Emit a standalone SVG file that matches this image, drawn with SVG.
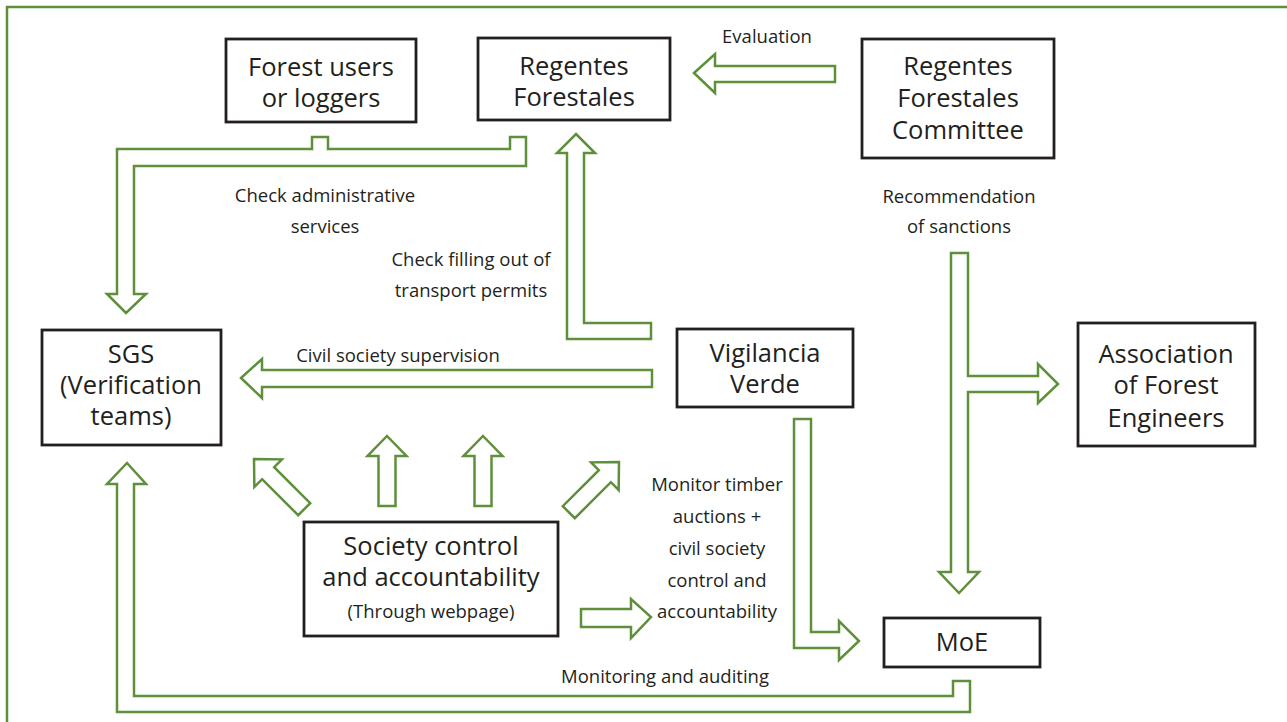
<svg xmlns="http://www.w3.org/2000/svg" width="1287" height="722" viewBox="0 0 1287 722">
  <style>
    .frame { fill: none; stroke: #5e8f3b; stroke-width: 2.5; }
    .box { fill: #ffffff; stroke: #231f20; stroke-width: 2.8; }
    .ba { fill: #ffffff; stroke: #5e8f3b; stroke-width: 2.5; stroke-linejoin: miter; }
    .nt { font-family: "Open Sans", "Liberation Sans", sans-serif; font-size: 25.5px; fill: #231f20; text-anchor: middle; }
    .nts { font-family: "Open Sans", "Liberation Sans", sans-serif; font-size: 18.5px; fill: #231f20; text-anchor: middle; }
    .lbl { font-family: "Open Sans", "Liberation Sans", sans-serif; font-size: 18.5px; fill: #231f20; text-anchor: middle; }
  </style>
  <rect x="0" y="0" width="1287" height="722" fill="#ffffff"/>
  <rect class="frame" x="7" y="7" width="1300" height="740"/>

  <g id="connectors">
    <polygon class="ba" points="694,73 715,54 715,66 835,66 835,82 715,82 715,93"/>
    <polygon class="ba" points="117,149 312,149 312,137 328,137 328,149 510,149 510,137 526,137 526,166 134,166 134,294 146,294 126,313 107,294 117,294"/>
    <polygon class="ba" points="576,134 595,153 584,153 584,323 651,323 651,339 567,339 567,153 557,153"/>
    <polygon class="ba" points="241,378 262,359 262,370 652,370 652,387 262,387 262,398"/>
    <polygon class="ba" points="951,253 968,253 968,376 1038,376 1038,364 1058,384 1038,403 1038,392 968,392 968,572 979,572 959,593 939,572 951,572"/>
    <polygon class="ba" points="794,419 811,419 811,632 839,632 839,621 859,641 839,660 839,648 794,648"/>
    <polygon class="ba" points="127,463 146,484 134,484 134,696 953,696 953,681 970,681 970,712 117,712 117,484 107,484"/>
    <polygon class="ba" points="581,609 631,609 631,599 651,617 631,638 631,627 581,627"/>
    <polygon class="ba" transform="translate(254,459) rotate(-45)" points="0,0 19.5,20 8.5,20 8.5,71 -8.5,71 -8.5,20 -19.5,20"/>
    <polygon class="ba" transform="translate(387,436)" points="0,0 19.5,20 8.5,20 8.5,70 -8.5,70 -8.5,20 -19.5,20"/>
    <polygon class="ba" transform="translate(483,436)" points="0,0 19.5,20 8.5,20 8.5,70 -8.5,70 -8.5,20 -19.5,20"/>
    <polygon class="ba" transform="translate(619,462) rotate(45)" points="0,0 19.5,20 8.5,20 8.5,71 -8.5,71 -8.5,20 -19.5,20"/>

    <text class="lbl" x="767" y="43">Evaluation</text>
    <text class="lbl" x="325" y="202">Check administrative</text>
    <text class="lbl" x="325" y="233">services</text>
    <text class="lbl" x="471" y="266">Check filling out of</text>
    <text class="lbl" x="471" y="297">transport permits</text>
    <text class="lbl" x="398" y="362">Civil society supervision</text>
    <text class="lbl" x="959" y="203">Recommendation</text>
    <text class="lbl" x="959" y="233">of sanctions</text>
    <text class="lbl" x="717" y="491">Monitor timber</text>
    <text class="lbl" x="717" y="523">auctions +</text>
    <text class="lbl" x="717" y="555">civil society</text>
    <text class="lbl" x="717" y="587">control and</text>
    <text class="lbl" x="717" y="618">accountability</text>
    <text class="lbl" x="665" y="683">Monitoring and auditing</text>
  </g>

  <g id="forest-users">
    <rect class="box" x="226" y="39" width="190" height="83"/>
    <text class="nt" x="321" y="76">Forest users</text>
    <text class="nt" x="321" y="107">or loggers</text>
  </g>
  <g id="regentes-forestales">
    <rect class="box" x="478" y="38" width="192" height="82"/>
    <text class="nt" x="574" y="75">Regentes</text>
    <text class="nt" x="574" y="106">Forestales</text>
  </g>
  <g id="regentes-committee">
    <rect class="box" x="862" y="39" width="192" height="119"/>
    <text class="nt" x="958" y="75">Regentes</text>
    <text class="nt" x="958" y="107">Forestales</text>
    <text class="nt" x="958" y="139">Committee</text>
  </g>
  <g id="sgs">
    <rect class="box" x="42" y="330" width="179" height="115"/>
    <text class="nt" x="131" y="363">SGS</text>
    <text class="nt" x="131" y="394">(Verification</text>
    <text class="nt" x="131" y="425">teams)</text>
  </g>
  <g id="vigilancia-verde">
    <rect class="box" x="677" y="329" width="176" height="78"/>
    <text class="nt" x="765" y="362">Vigilancia</text>
    <text class="nt" x="765" y="393">Verde</text>
  </g>
  <g id="association">
    <rect class="box" x="1078" y="323" width="177" height="123"/>
    <text class="nt" x="1166" y="363">Association</text>
    <text class="nt" x="1166" y="394">of Forest</text>
    <text class="nt" x="1166" y="427">Engineers</text>
  </g>
  <g id="society-control">
    <rect class="box" x="304" y="522" width="254" height="114"/>
    <text class="nt" x="431" y="555">Society control</text>
    <text class="nt" x="431" y="586">and accountability</text>
    <text class="nts" x="431" y="618">(Through webpage)</text>
  </g>
  <g id="moe">
    <rect class="box" x="884" y="618" width="156" height="49"/>
    <text class="nt" x="962" y="651">MoE</text>
  </g>
</svg>
